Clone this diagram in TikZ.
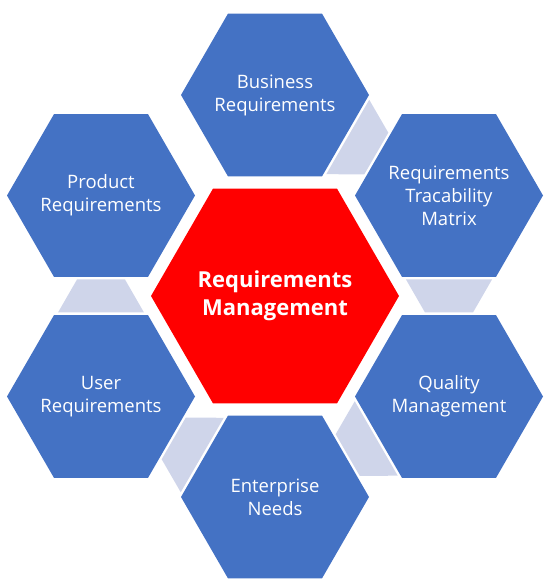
\documentclass[tikz,border=0pt]{standalone}
\usepackage{fontspec}
\setmainfont{Open Sans}
\definecolor{hexblue}{HTML}{4472C4}
\definecolor{hexred}{HTML}{FF0000}
\definecolor{linklight}{HTML}{CFD5EA}
\tikzset{
  outertext/.style={inner sep=0pt, text=white, align=center,
    font=\fontsize{18.5}{23}\selectfont},
  centertext/.style={inner sep=0pt, text=white, align=center,
    font=\fontsize{22}{28.5}\selectfont\bfseries},
  linkshape/.style={fill=linklight, draw=none}
}
\newcommand\hexfill[3]{% center node, radius, colour
  \fill[#3] (#1.center) +(0:#2) -- +(60:#2) -- +(120:#2) -- +(180:#2)
    -- +(240:#2) -- +(300:#2) -- cycle;}
\newcommand\hexlink[2]{%
  \fill[linkshape, shift={(#1.center)}, rotate=#2]
    (84,43) -- (84,-43) -- (117,-24) -- (117,24) -- cycle;}
\begin{document}
\begin{tikzpicture}[x=1pt,y=1pt]
\useasboundingbox (0,0) rectangle (550,584);
\coordinate (rmc) at (275,288);
\coordinate (brc) at (275,489);
\coordinate (rtmc) at (449,388.5);
\coordinate (qmc) at (449,187.5);
\coordinate (enc) at (275,87);
\coordinate (urc) at (101,187.5);
\coordinate (prc) at (101,388.5);
\hexfill{rmc}{124}{hexred}
\hexfill{brc}{94}{hexblue}
\hexfill{rtmc}{94}{hexblue}
\hexfill{qmc}{94}{hexblue}
\hexfill{enc}{94}{hexblue}
\hexfill{urc}{94}{hexblue}
\hexfill{prc}{94}{hexblue}
\node[centertext] (rm) at (rmc) {Requirements\\Management};
\node[outertext] (br) at (brc) {Business\\Requirements};
\node[outertext] (rtm) at (rtmc) {Requirements\\Tracability\\Matrix};
\node[outertext] (qm) at (qmc) {Quality\\Management};
\node[outertext] (en) at (enc) {Enterprise\\Needs};
\node[outertext] (ur) at (urc) {User\\Requirements};
\node[outertext] (pr) at (prc) {Product\\Requirements};
\hexlink{brc}{-30}
\hexlink{rtmc}{-90}
\hexlink{qmc}{-150}
\hexlink{enc}{150}
\hexlink{urc}{90}
\end{tikzpicture}
\end{document}
